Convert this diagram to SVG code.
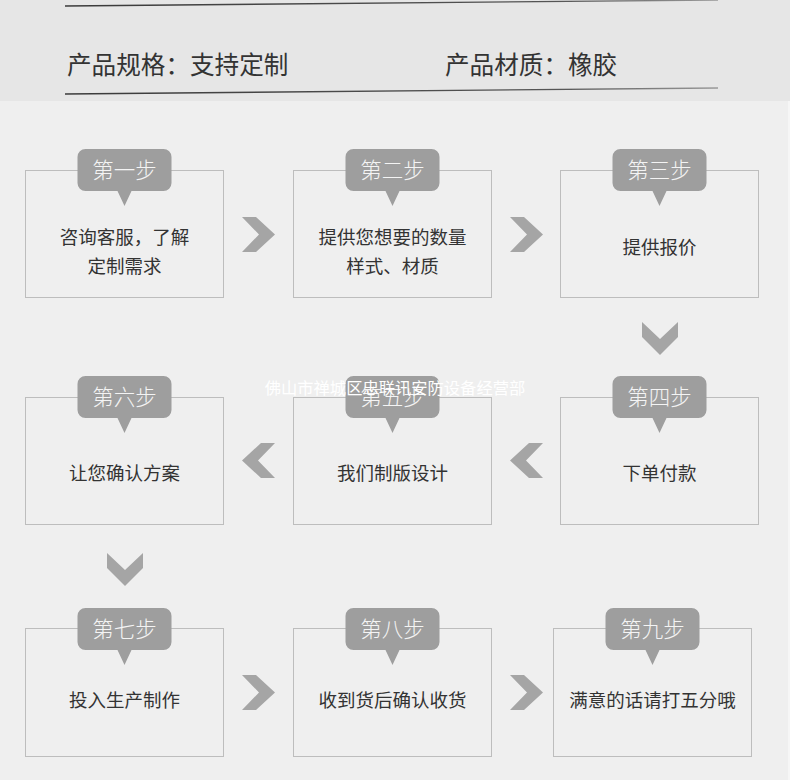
<svg xmlns="http://www.w3.org/2000/svg" width="790" height="780" viewBox="0 0 790 780">
<defs>
<linearGradient id="lg" x1="0" y1="0" x2="1" y2="0">
<stop offset="0" stop-color="#3a3a3a"/>
<stop offset="0.75" stop-color="#555"/>
<stop offset="1" stop-color="#9a9a9a"/>
</linearGradient>
<path id="badge" d="M-39,-21 H39 A8,8 0 0 1 47,-13 V13 A8,8 0 0 1 39,21 H7 L0,36 L-7,21 H-39 A8,8 0 0 1 -47,13 V-13 A8,8 0 0 1 -39,-21 Z"/>
<polygon id="chevR" points="0,0 14,0 33,17.5 14,35 0,35 17,17.5"/>
<polygon id="chevL" points="33,0 19,0 0,17.5 19,35 33,35 16,17.5"/>
<polygon id="chevD" points="0,0 18,17 36,0 36,15 18,33 0,15"/>
</defs>
<style>
.box{fill:#efefef;stroke:#bdbdbd;stroke-width:1}
.badge{fill:#9e9e9e}
.bt{font-family:"Noto Sans CJK SC","Noto Sans",sans-serif;font-size:21.5px;fill:#f4f4f4;text-anchor:middle;font-weight:300}
.t{font-family:"Noto Sans CJK SC","Noto Sans",sans-serif;font-size:18.5px;fill:#333;text-anchor:middle}
.h{font-family:"Noto Sans CJK SC","Noto Sans",sans-serif;font-size:24.6px;fill:#333}
.chev{fill:#a5a5a5}
.wm{font-family:"Noto Sans CJK SC","Noto Sans",sans-serif;font-size:16.3px;fill:#ffffff}
</style>
<rect x="0" y="0" width="790" height="780" fill="#efefef"/>
<rect x="0" y="0" width="790" height="101" fill="#e6e6e6"/>
<rect x="788" y="101" width="2" height="679" fill="#f6f6f6"/>
<g id="header">
<path d="M65,6 L718,0" stroke="url(#lg)" stroke-width="1.3" fill="none"/>
<path d="M65,94 L718,88" stroke="url(#lg)" stroke-width="1.3" fill="none"/>
<text class="h" x="67" y="74">产品规格：支持定制</text>
<text class="h" x="445" y="74">产品材质：橡胶</text>
</g>
<g id="connectors">
<use href="#chevR" class="chev" x="242" y="217"/>
<use href="#chevR" class="chev" x="510" y="217"/>
<use href="#chevD" class="chev" x="642" y="322"/>
<use href="#chevL" class="chev" x="242" y="443"/>
<use href="#chevL" class="chev" x="510" y="443"/>
<use href="#chevD" class="chev" x="107" y="553"/>
<use href="#chevR" class="chev" x="242" y="675"/>
<use href="#chevR" class="chev" x="510" y="675"/>
</g>
<g id="step1">
<rect class="box" x="25.5" y="170.5" width="198" height="127"/>
<use href="#badge" class="badge" x="124.5" y="170"/>
<text class="bt" x="124.5" y="177.5">第一步</text>
<text class="t" x="124.5" y="244">咨询客服，了解</text>
<text class="t" x="124.5" y="273">定制需求</text>
</g>
<g id="step2">
<rect class="box" x="293.5" y="170.5" width="198" height="127"/>
<use href="#badge" class="badge" x="392.5" y="170"/>
<text class="bt" x="392.5" y="177.5">第二步</text>
<text class="t" x="392.5" y="244">提供您想要的数量</text>
<text class="t" x="392.5" y="273">样式、材质</text>
</g>
<g id="step3">
<rect class="box" x="560.5" y="170.5" width="198" height="127"/>
<use href="#badge" class="badge" x="659.5" y="170"/>
<text class="bt" x="659.5" y="177.5">第三步</text>
<text class="t" x="659.5" y="254">提供报价</text>
</g>
<g id="step4">
<rect class="box" x="560.5" y="397.5" width="198" height="127"/>
<use href="#badge" class="badge" x="659.5" y="397"/>
<text class="bt" x="659.5" y="404.5">第四步</text>
<text class="t" x="659.5" y="480">下单付款</text>
</g>
<g id="step5">
<rect class="box" x="293.5" y="397.5" width="198" height="127"/>
<use href="#badge" class="badge" x="392.5" y="397"/>
<text class="bt" x="392.5" y="404.5">第五步</text>
<text class="t" x="392.5" y="480">我们制版设计</text>
</g>
<g id="step6">
<rect class="box" x="25.5" y="397.5" width="198" height="127"/>
<use href="#badge" class="badge" x="124.5" y="397"/>
<text class="bt" x="124.5" y="404.5">第六步</text>
<text class="t" x="124.5" y="480">让您确认方案</text>
</g>
<g id="step7">
<rect class="box" x="25.5" y="628.5" width="198" height="128"/>
<use href="#badge" class="badge" x="124.5" y="629"/>
<text class="bt" x="124.5" y="636.5">第七步</text>
<text class="t" x="124.5" y="707">投入生产制作</text>
</g>
<g id="step8">
<rect class="box" x="293.5" y="628.5" width="198" height="128"/>
<use href="#badge" class="badge" x="392.5" y="629"/>
<text class="bt" x="392.5" y="636.5">第八步</text>
<text class="t" x="392.5" y="707">收到货后确认收货</text>
</g>
<g id="step9">
<rect class="box" x="553.5" y="628.5" width="198" height="128"/>
<use href="#badge" class="badge" x="652.5" y="629"/>
<text class="bt" x="652.5" y="636.5">第九步</text>
<text class="t" x="652.5" y="707">满意的话请打五分哦</text>
</g>
<text class="wm" x="395" y="394" text-anchor="middle">佛山市禅城区忠联讯安防设备经营部</text>
</svg>
